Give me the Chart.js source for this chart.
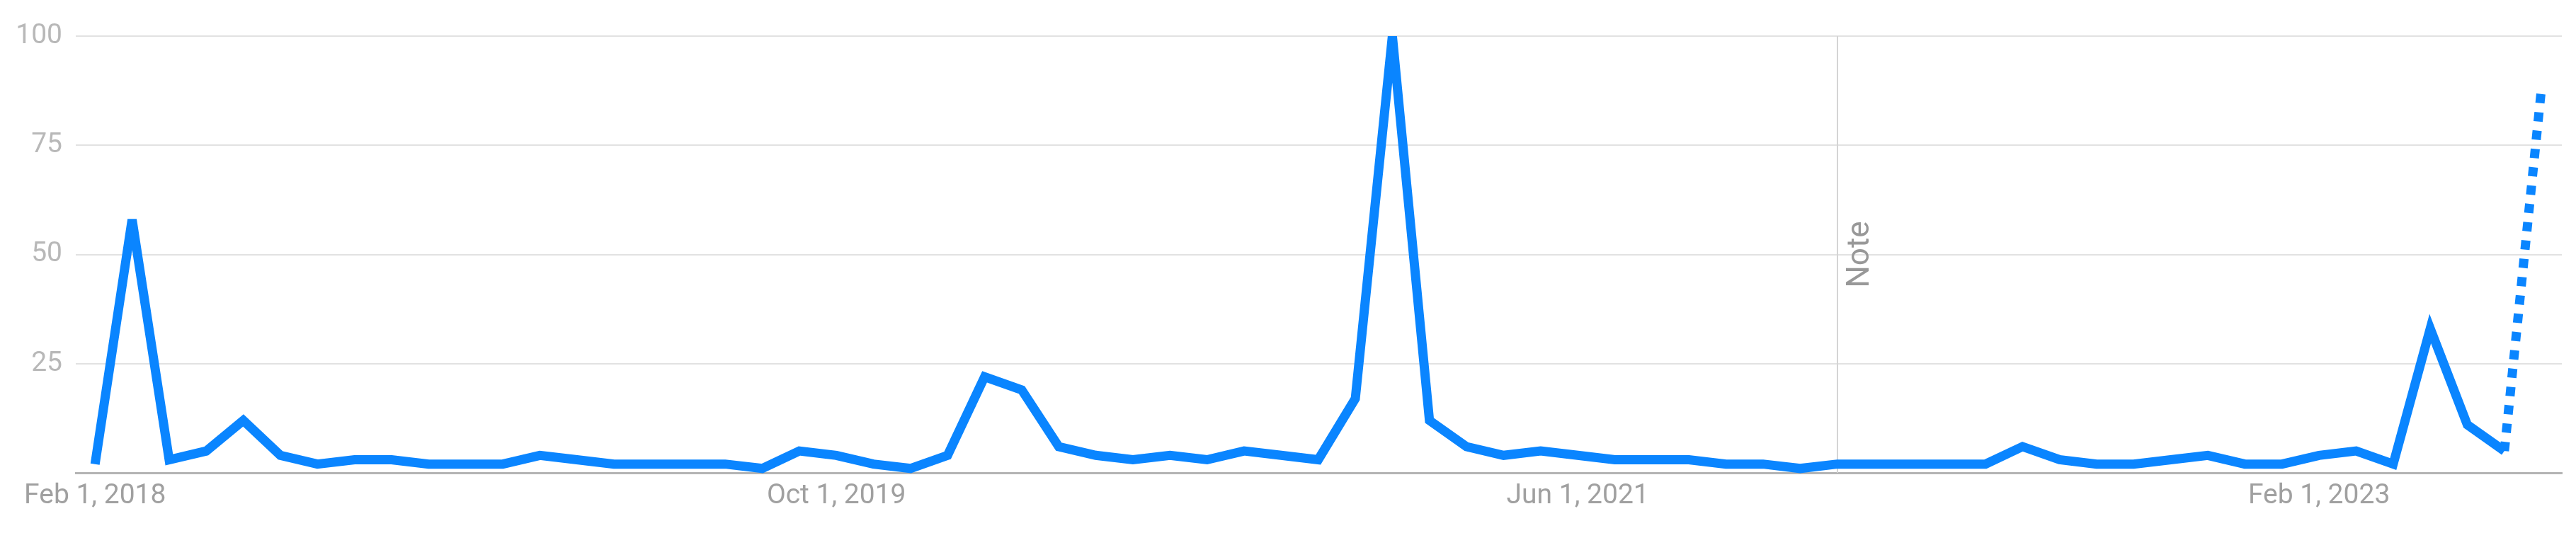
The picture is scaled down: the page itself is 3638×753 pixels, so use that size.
<!DOCTYPE html>
<html>
<head>
<meta charset="utf-8">
<script src="https://cdn.jsdelivr.net/npm/chart.js@4.4.0/dist/chart.umd.min.js"></script>
<style>
  html, body { margin: 0; padding: 0; background: #fff; }
  #chart { display: block; }
</style>
</head>
<body>
<canvas id="chart" width="3638" height="753"></canvas>
<script>
"use strict";

// ── Data ────────────────────────────────────────────────────────────────
const months = [
  "2018-02", "2018-03", "2018-04", "2018-05", "2018-06", "2018-07", "2018-08", "2018-09", "2018-10", "2018-11", "2018-12",
  "2019-01", "2019-02", "2019-03", "2019-04", "2019-05", "2019-06", "2019-07", "2019-08", "2019-09", "2019-10", "2019-11", "2019-12",
  "2020-01", "2020-02", "2020-03", "2020-04", "2020-05", "2020-06", "2020-07", "2020-08", "2020-09", "2020-10", "2020-11", "2020-12",
  "2021-01", "2021-02", "2021-03", "2021-04", "2021-05", "2021-06", "2021-07", "2021-08", "2021-09", "2021-10", "2021-11", "2021-12",
  "2022-01", "2022-02", "2022-03", "2022-04", "2022-05", "2022-06", "2022-07", "2022-08", "2022-09", "2022-10", "2022-11", "2022-12",
  "2023-01", "2023-02", "2023-03", "2023-04", "2023-05", "2023-06", "2023-07", "2023-08",
];
const interest = [
  2, 58, 3, 5, 12, 4, 2, 3, 3, 2, 2,
  2, 4, 3, 2, 2, 2, 2, 1, 5, 4, 2, 1,
  4, 22, 19, 6, 4, 3, 4, 3, 5, 4, 3, 17,
  100, 12, 6, 4, 5, 4, 3, 3, 3, 2, 2, 1,
  2, 2, 2, 2, 2, 6, 3, 2, 2, 3, 4, 2,
  2, 4, 5, 2, 33, 11, 5, 88,
];
const partialMonth = "2023-08";          // last point is incomplete -> dotted
const noteMonth = "2022-01";             // "Note" marker
const noteText = "Note";
const xTickMonths = ["2018-02", "2019-10", "2021-06", "2023-02"];
const xTickLabels = ["Feb 1, 2018", "Oct 1, 2019", "Jun 1, 2021", "Feb 1, 2023"];
const yTicks = [25, 50, 75, 100];

// ── Style ───────────────────────────────────────────────────────────────
const LINE = "#0a85ff";
const FONT = "Roboto";
const partialIdx = months.indexOf(partialMonth);
const noteIdx = months.indexOf(noteMonth);

// miter limit like the svg original (sharp spikes get bevelled)
const miterPlugin = {
  id: "miter",
  beforeDatasetsDraw(chart) { chart.ctx.miterLimit = 4; },
};

// vertical note line + rotated label
const notePlugin = {
  id: "note",
  beforeDatasetsDraw(chart) {
    const { ctx, chartArea: a, scales } = chart;
    const x = Math.round(scales.x.getPixelForValue(noteIdx));
    ctx.save();
    ctx.strokeStyle = "#d4d4d4";
    ctx.lineWidth = 2;
    ctx.beginPath();
    ctx.moveTo(x, a.top);
    ctx.lineTo(x, a.bottom);
    ctx.stroke();
    ctx.translate(x + 44, (a.top + a.bottom) / 2);
    ctx.rotate(-Math.PI / 2);
    ctx.fillStyle = "#989898";
    ctx.font = `44px ${FONT}`;
    ctx.textAlign = "center";
    ctx.textBaseline = "alphabetic";
    ctx.fillText(noteText, 0, 0);
    ctx.restore();
  },
};

new Chart(document.getElementById("chart"), {
  type: "line",
  data: {
    datasets: [{
      data: interest.map((v, i) => ({ x: i, y: v })),
      borderColor: LINE,
      borderWidth: 13,
      borderJoinStyle: "miter",
      pointRadius: 0,
      tension: 0,
      clip: { left: false, top: 0, right: false, bottom: false },
      segment: {
        borderDash: (c) => (c.p1DataIndex === partialIdx ? [13, 13] : undefined),
      },
    }],
  },
  options: {
    responsive: false,
    animation: false,
    events: [],
    layout: { padding: { top: 51, right: 20, bottom: 0, left: 0 } },
    plugins: { legend: { display: false }, tooltip: { enabled: false } },
    scales: {
      x: {
        type: "linear",
        min: -0.52,
        max: 66.55,
        afterFit: (s) => { s.height = 85; },
        afterBuildTicks: (s) => { s.ticks = xTickMonths.map((m) => ({ value: months.indexOf(m) })); },
        grid: { display: false, drawTicks: false },
        border: { display: true, color: "#b4b4b4", width: 3 },
        ticks: {
          autoSkip: false,
          maxRotation: 0,
          padding: 10,
          color: "#a0a0a0",
          font: { family: FONT, size: 39 },
          callback: (v) => xTickLabels[xTickMonths.indexOf(months[v])],
        },
      },
      y: {
        min: 0,
        max: 100,
        afterFit: (s) => { s.width = 107; },
        afterBuildTicks: (s) => { s.ticks = yTicks.map((v) => ({ value: v })); },
        grid: { color: "#e2e2e2", lineWidth: 2, drawTicks: false },
        border: { display: false },
        ticks: {
          padding: 19,
          color: "#b8b8b8",
          font: { family: FONT, size: 39 },
        },
      },
    },
  },
  plugins: [miterPlugin, notePlugin],
});
</script>
</body>
</html>
